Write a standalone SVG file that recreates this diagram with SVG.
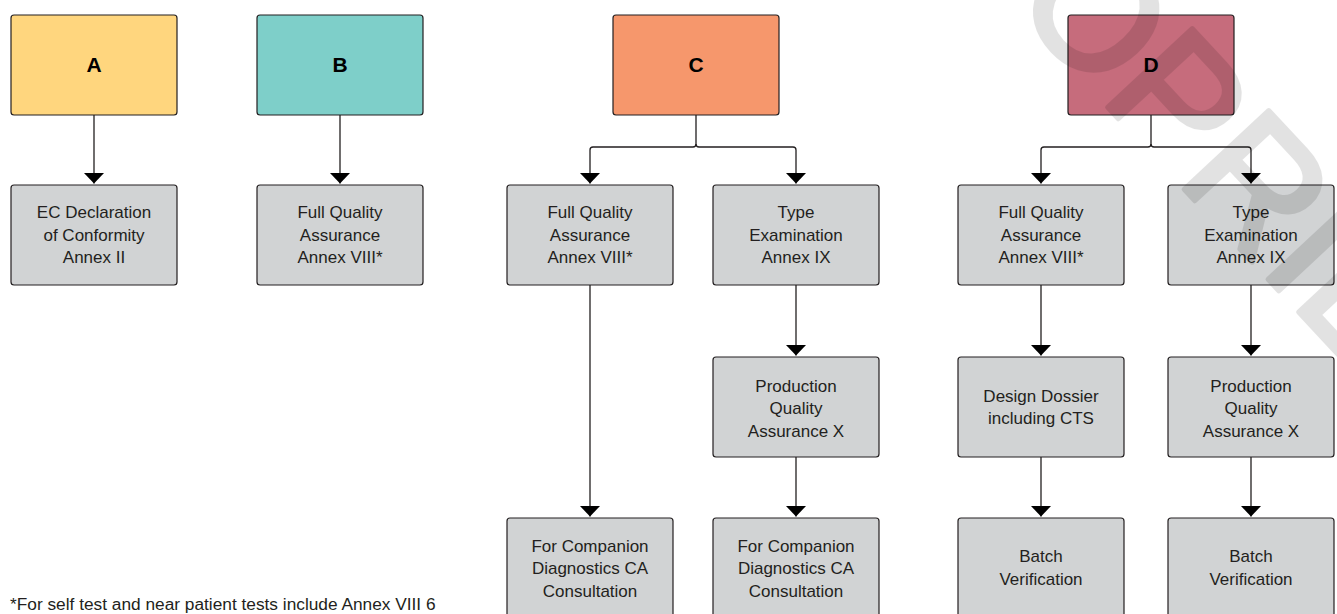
<svg xmlns="http://www.w3.org/2000/svg" width="1337" height="614" viewBox="0 0 1337 614">
<style>
.box{stroke:#231F20;stroke-width:1.2}
.g{fill:#D1D3D4}
.t{font-family:"Liberation Sans",Arial,sans-serif;font-size:17px;fill:#231F20;text-anchor:middle}
.h{font-family:"Liberation Sans",Arial,sans-serif;font-size:21px;font-weight:bold;fill:#000;text-anchor:middle}
.c{fill:none;stroke:#231F20;stroke-width:1.3}
.wm{font-family:"Liberation Sans",Arial,sans-serif;font-size:168px;fill:#000;stroke:#000;stroke-width:5;stroke-linejoin:round}
</style>
<defs>
<marker id="ah" viewBox="0 0 11 21" refX="11" refY="10.5" markerWidth="11" markerHeight="21" markerUnits="userSpaceOnUse" orient="auto">
<path d="M0,0 L11,10.5 L0,21 z" fill="#000"/>
</marker>
</defs>
<rect width="1337" height="614" fill="#fff"/>

<g id="connectors" class="c">
<path d="M94,115 V183.5" marker-end="url(#ah)"/>
<path d="M340,115 V183.5" marker-end="url(#ah)"/>
<path d="M696,115 V144 Q696,147 693,147 H593 Q590,147 590,150 V183.5" marker-end="url(#ah)"/>
<path d="M696,144 Q696,147 699,147 H793 Q796,147 796,150 V183.5" marker-end="url(#ah)"/>
<path d="M590,285 V516.5" marker-end="url(#ah)"/>
<path d="M796,285 V355.5" marker-end="url(#ah)"/>
<path d="M796,457 V516.5" marker-end="url(#ah)"/>
<path d="M1151,115 V144 Q1151,147 1148,147 H1044 Q1041,147 1041,150 V183.5" marker-end="url(#ah)"/>
<path d="M1151,144 Q1151,147 1154,147 H1248 Q1251,147 1251,150 V183.5" marker-end="url(#ah)"/>
<path d="M1041,285 V355.5" marker-end="url(#ah)"/>
<path d="M1041,457 V516.5" marker-end="url(#ah)"/>
<path d="M1251,285 V355.5" marker-end="url(#ah)"/>
<path d="M1251,457 V516.5" marker-end="url(#ah)"/>
</g>

<g id="nodeA">
<rect class="box" x="11" y="15" width="166" height="100" rx="3" fill="#FFD67E"/>
<text class="h" x="94" y="71.5">A</text>
</g>
<g id="nodeB">
<rect class="box" x="257" y="15" width="166" height="100" rx="3" fill="#7ECFC9"/>
<text class="h" x="340" y="71.5">B</text>
</g>
<g id="nodeC">
<rect class="box" x="613" y="15" width="166" height="100" rx="3" fill="#F6976C"/>
<text class="h" x="696" y="71.5">C</text>
</g>
<g id="nodeD">
<rect class="box" x="1068" y="15" width="166" height="100" rx="3" fill="#C66C7C"/>
<text class="h" x="1151" y="71.5">D</text>
</g>

<g id="nodeA1">
<rect class="box g" x="11" y="185" width="166" height="100" rx="3"/>
<text class="t" x="94" y="218.3">EC Declaration</text>
<text class="t" x="94" y="240.8">of Conformity</text>
<text class="t" x="94" y="263.3">Annex II</text>
</g>
<g id="nodeB1">
<rect class="box g" x="257" y="185" width="166" height="100" rx="3"/>
<text class="t" x="340" y="218.3">Full Quality</text>
<text class="t" x="340" y="240.8">Assurance</text>
<text class="t" x="340" y="263.3">Annex VIII*</text>
</g>
<g id="nodeC1">
<rect class="box g" x="507" y="185" width="166" height="100" rx="3"/>
<text class="t" x="590" y="218.3">Full Quality</text>
<text class="t" x="590" y="240.8">Assurance</text>
<text class="t" x="590" y="263.3">Annex VIII*</text>
</g>
<g id="nodeC2">
<rect class="box g" x="713" y="185" width="166" height="100" rx="3"/>
<text class="t" x="796" y="218.3">Type</text>
<text class="t" x="796" y="240.8">Examination</text>
<text class="t" x="796" y="263.3">Annex IX</text>
</g>
<g id="nodeC3">
<rect class="box g" x="713" y="357" width="166" height="100" rx="3"/>
<text class="t" x="796" y="391.5">Production</text>
<text class="t" x="796" y="414">Quality</text>
<text class="t" x="796" y="436.5">Assurance X</text>
</g>
<g id="nodeC4">
<rect class="box g" x="507" y="518" width="166" height="100" rx="3"/>
<text class="t" x="590" y="551.5">For Companion</text>
<text class="t" x="590" y="574">Diagnostics CA</text>
<text class="t" x="590" y="596.5">Consultation</text>
</g>
<g id="nodeC5">
<rect class="box g" x="713" y="518" width="166" height="100" rx="3"/>
<text class="t" x="796" y="551.5">For Companion</text>
<text class="t" x="796" y="574">Diagnostics CA</text>
<text class="t" x="796" y="596.5">Consultation</text>
</g>
<g id="nodeD1">
<rect class="box g" x="958" y="185" width="166" height="100" rx="3"/>
<text class="t" x="1041" y="218.3">Full Quality</text>
<text class="t" x="1041" y="240.8">Assurance</text>
<text class="t" x="1041" y="263.3">Annex VIII*</text>
</g>
<g id="nodeD2">
<rect class="box g" x="1168" y="185" width="166" height="100" rx="3"/>
<text class="t" x="1251" y="218.3">Type</text>
<text class="t" x="1251" y="240.8">Examination</text>
<text class="t" x="1251" y="263.3">Annex IX</text>
</g>
<g id="nodeD3">
<rect class="box g" x="958" y="357" width="166" height="100" rx="3"/>
<text class="t" x="1041" y="401.5">Design Dossier</text>
<text class="t" x="1041" y="424">including CTS</text>
</g>
<g id="nodeD4">
<rect class="box g" x="1168" y="357" width="166" height="100" rx="3"/>
<text class="t" x="1251" y="391.5">Production</text>
<text class="t" x="1251" y="414">Quality</text>
<text class="t" x="1251" y="436.5">Assurance X</text>
</g>
<g id="nodeD5">
<rect class="box g" x="958" y="518" width="166" height="100" rx="3"/>
<text class="t" x="1041" y="562">Batch</text>
<text class="t" x="1041" y="584.5">Verification</text>
</g>
<g id="nodeD6">
<rect class="box g" x="1168" y="518" width="166" height="100" rx="3"/>
<text class="t" x="1251" y="562">Batch</text>
<text class="t" x="1251" y="584.5">Verification</text>
</g>

<g id="footnote">
<text x="10" y="609.5" style="font-family:'Liberation Sans',Arial,sans-serif;font-size:17.3px;fill:#231F20">*For self test and near patient tests include Annex VIII 6</text>
</g>

<g id="watermark" opacity="0.11">
<text class="wm" x="850" y="-169" transform="rotate(47 850 -169)">PROPRIETARY</text>
</g>
</svg>
